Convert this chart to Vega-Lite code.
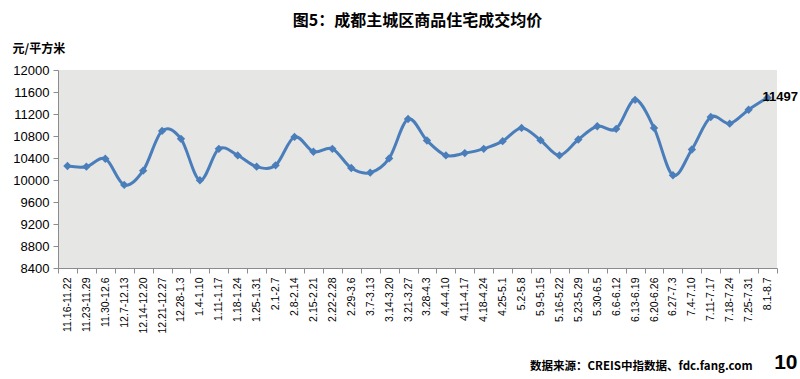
{
  "$schema": "https://vega.github.io/schema/vega-lite/v6.json",
  "autosize": "none",
  "width": 719,
  "height": 198,
  "padding": {"left": 58, "top": 70, "right": 23, "bottom": 111},
  "background": "#ffffff",
  "title": {
    "text": "图5：成都主城区商品住宅成交均价",
    "font": "Noto Sans CJK SC",
    "fontSize": 16,
    "fontWeight": "bold",
    "color": "#000000",
    "anchor": "middle",
    "offset": 13
  },
  "config": {
    "view": {"fill": "#e6e6e4", "stroke": null},
    "axis": {"grid": false, "domainColor": "#8c8c8c", "tickColor": "#8c8c8c", "labelColor": "#000000"},
    "axisY": {"labelOverlap": false, "labelFlush": false}
  },
  "data": {
    "values": [
      {"week": "11.16-11.22", "price": 10254},
      {"week": "11.23-11.29", "price": 10242},
      {"week": "11.30-12.6", "price": 10387},
      {"week": "12.7-12.13", "price": 9911},
      {"week": "12.14-12.20", "price": 10170},
      {"week": "12.21-12.27", "price": 10892},
      {"week": "12.28-1.3", "price": 10748},
      {"week": "1.4-1.10", "price": 9995},
      {"week": "1.11-1.17", "price": 10567},
      {"week": "1.18-1.24", "price": 10447},
      {"week": "1.25-1.31", "price": 10242},
      {"week": "2.1-2.7", "price": 10266},
      {"week": "2.8-2.14", "price": 10784},
      {"week": "2.15-2.21", "price": 10513},
      {"week": "2.22-2.28", "price": 10567},
      {"week": "2.29-3.6", "price": 10218},
      {"week": "3.7-3.13", "price": 10134},
      {"week": "3.14-3.20", "price": 10393},
      {"week": "3.21-3.27", "price": 11109},
      {"week": "3.28-4.3", "price": 10718},
      {"week": "4.4-4.10", "price": 10447},
      {"week": "4.11-4.17", "price": 10489},
      {"week": "4.18-4.24", "price": 10567},
      {"week": "4.25-5.1", "price": 10706},
      {"week": "5.2-5.8", "price": 10947},
      {"week": "5.9-5.15", "price": 10724},
      {"week": "5.16-5.22", "price": 10447},
      {"week": "5.23-5.29", "price": 10736},
      {"week": "5.30-6.5", "price": 10977},
      {"week": "6.6-6.12", "price": 10929},
      {"week": "6.13-6.19", "price": 11458},
      {"week": "6.20-6.26", "price": 10947},
      {"week": "6.27-7.3", "price": 10086},
      {"week": "7.4-7.10", "price": 10555},
      {"week": "7.11-7.17", "price": 11145},
      {"week": "7.18-7.24", "price": 11025},
      {"week": "7.25-7.31", "price": 11278},
      {"week": "8.1-8.7", "price": 11497}
    ]
  },
  "layer": [
    {
      "mark": {
        "type": "line",
        "interpolate": "cardinal",
        "color": "#4a7ebb",
        "strokeWidth": 3,
        "point": {"shape": "diamond", "size": 70, "filled": true, "color": "#4a7ebb"}
      },
      "encoding": {
        "x": {
          "field": "week",
          "type": "ordinal",
          "sort": null,
          "scale": {"type": "band", "paddingInner": 0, "paddingOuter": 0},
          "axis": {
            "orient": "bottom",
            "labelAngle": -90,
            "labelFont": "Liberation Sans",
            "labelFontSize": 10.5,
            "labelPadding": 4,
            "labelOverlap": false,
            "tickBand": "extent",
            "tickSize": 5,
            "title": "数据来源：CREIS中指数据、fdc.fang.com",
            "titleFont": "Noto Sans CJK SC",
            "titleFontSize": 11.5,
            "titleFontWeight": "bold",
            "titleColor": "#000000",
            "titleAlign": "right",
            "titleAnchor": null,
            "titleBaseline": "alphabetic",
            "titleX": 694,
            "titleY": 101
          }
        },
        "y": {
          "field": "price",
          "type": "quantitative",
          "scale": {"domain": [8400, 12000], "nice": false, "zero": false},
          "axis": {
            "values": [8400, 8800, 9200, 9600, 10000, 10400, 10800, 11200, 11600, 12000],
            "format": "d",
            "labelFont": "Liberation Sans",
            "labelFontSize": 13,
            "labelPadding": 4,
            "labelOverlap": false,
            "labelFlush": false,
            "tickSize": 5,
            "title": "元/平方米",
            "titleFont": "Noto Sans CJK SC",
            "titleFontSize": 12,
            "titleFontWeight": "bold",
            "titleColor": "#000000",
            "titleAngle": 0,
            "titleAlign": "left",
            "titleAnchor": null,
            "titleBaseline": "middle",
            "titleX": -46,
            "titleY": -22
          }
        }
      }
    },
    {
      "transform": [{"filter": "datum.week === '8.1-8.7'"}],
      "mark": {
        "type": "text",
        "align": "left",
        "baseline": "middle",
        "dx": -5,
        "dy": -1,
        "font": "Liberation Sans",
        "fontSize": 13,
        "fontWeight": "bold",
        "color": "#000000"
      },
      "encoding": {
        "x": {
          "field": "week",
          "type": "ordinal",
          "sort": null,
          "axis": {
            "orient": "top",
            "labels": false,
            "ticks": false,
            "domain": false,
            "title": "10",
            "titleFont": "Liberation Sans",
            "titleFontSize": 21,
            "titleFontWeight": "bold",
            "titleColor": "#000000",
            "titleAlign": "right",
            "titleAnchor": null,
            "titleBaseline": "middle",
            "titleX": 739,
            "titleY": 292
          }
        },
        "y": {
          "field": "price",
          "type": "quantitative",
          "axis": {
            "values": [8400, 8800, 9200, 9600, 10000, 10400, 10800, 11200, 11600, 12000],
            "format": "d",
            "labelOverlap": false
          }
        },
        "text": {"field": "price", "type": "quantitative", "format": "d"}
      }
    }
  ],
  "resolve": {"axis": {"x": "independent"}}
}
